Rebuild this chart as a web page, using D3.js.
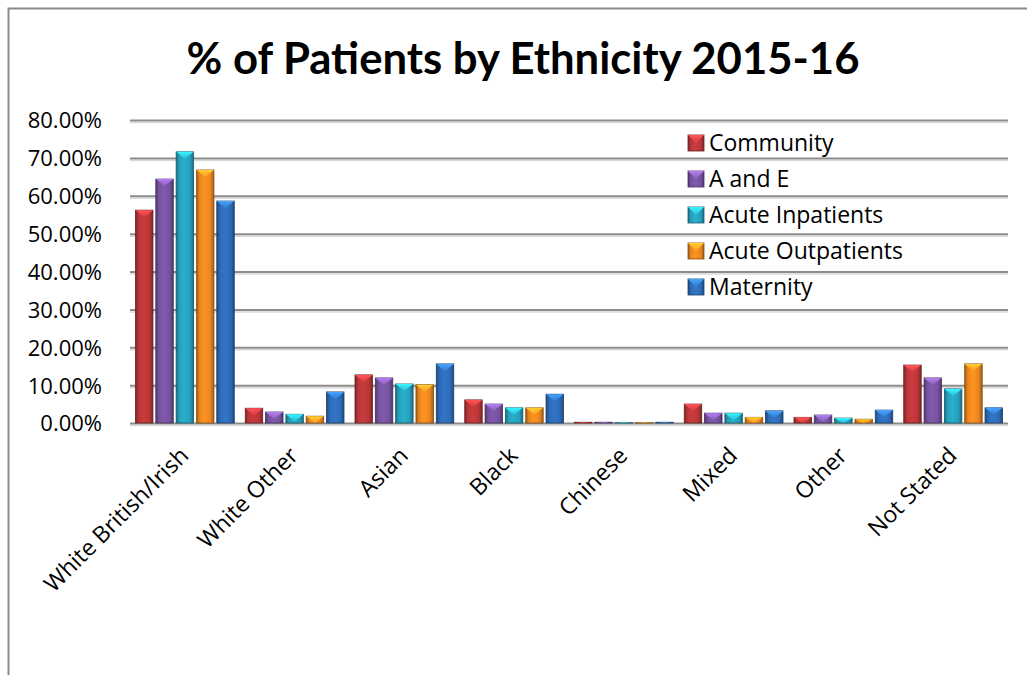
<!DOCTYPE html>
<html>
<head>
<meta charset="utf-8">
<script src="https://cdn.jsdelivr.net/npm/d3@7"></script>
<style>
  html, body { margin: 0; padding: 0; background: #fff; }
  svg { display: block; }
  text { font-family: "Open Sans", "Noto Sans", sans-serif; fill: #000; }
</style>
</head>
<body>
<svg id="chart" width="1027" height="675"></svg>
<script>
// Ethnicity categories along the x axis
const categories = ["White British/Irish", "White Other", "Asian", "Black", "Chinese", "Mixed", "Other", "Not Stated"];

// Service series names
const seriesNames = ["Community", "A and E", "Acute Inpatients", "Acute Outpatients", "Maternity"];

// Percentage of patients per category, one array per service
const community        = [56.2, 3.9, 12.7, 6.1, 0.2, 5.0, 1.5, 15.3];
const aAndE            = [64.4, 2.9, 11.9, 5.0, 0.2, 2.6, 2.1, 11.9];
const acuteInpatients  = [71.6, 2.3, 10.3, 4.0, 0.1, 2.6, 1.3, 9.0];
const acuteOutpatients = [66.8, 1.8, 10.1, 4.0, 0.1, 1.5, 1.0, 15.6];
const maternity        = [58.6, 8.2, 15.6, 7.6, 0.2, 3.2, 3.4, 4.0];

// Y-axis tick values (percent)
const yTicks = [0, 10, 20, 30, 40, 50, 60, 70, 80];

const seriesValues = [community, aAndE, acuteInpatients, acuteOutpatients, maternity];
const colors = ["#c0383a", "#7a55a4", "#27a6c1", "#f28b1f", "#2f6fbd"];

const svg = d3.select("#chart");
const W = 1027, H = 675;

// Outer frame: top and left edges
svg.append("path")
  .attr("d", `M8.5,${H} L8.5,8.5 L${W},8.5`)
  .attr("fill", "none").attr("stroke", "#8a8a8a").attr("stroke-width", 2);

// Title, sized to its intended width
const title = svg.append("text")
  .attr("x", 523).attr("y", 74)
  .attr("text-anchor", "middle")
  .attr("font-weight", "bold")
  .attr("font-size", 40)
  .style("font-family", "Lato, sans-serif")
  .text("% of Patients by Ethnicity 2015-16");
{
  const len = title.node().getComputedTextLength();
  title.attr("font-size", 40 * 673 / len);
}

const margin = { left: 130, right: 19, top: 120, bottom: 252 };
const plotW = W - margin.left - margin.right;
const plotH = H - margin.top - margin.bottom;

const x = d3.scaleBand().domain(categories).range([0, plotW]).paddingInner(0.1).paddingOuter(0.05);
const xs = d3.scaleBand().domain(d3.range(seriesNames.length)).range([0, x.bandwidth()]).paddingInner(0.14);
const y = d3.scaleLinear().domain([0, 80]).range([plotH, 0]);

const g = svg.append("g").attr("transform", `translate(${margin.left},${margin.top})`);
const defs = svg.append("defs");

// Gradients giving each bar a rounded, bevelled look
colors.forEach((c, i) => {
  const base = d3.color(c);
  const grad = defs.append("linearGradient").attr("id", "bar" + i)
    .attr("x1", "0%").attr("x2", "100%").attr("y1", "0%").attr("y2", "0%");
  grad.append("stop").attr("offset", "0%").attr("stop-color", base.darker(1.2));
  grad.append("stop").attr("offset", "18%").attr("stop-color", base.darker(0.1));
  grad.append("stop").attr("offset", "45%").attr("stop-color", base.brighter(0.15));
  grad.append("stop").attr("offset", "80%").attr("stop-color", base.darker(0.1));
  grad.append("stop").attr("offset", "100%").attr("stop-color", base.darker(1.2));
  const cap = defs.append("linearGradient").attr("id", "cap" + i)
    .attr("x1", "0%").attr("x2", "0%").attr("y1", "0%").attr("y2", "100%");
  cap.append("stop").attr("offset", "0%").attr("stop-color", base.brighter(1.1));
  cap.append("stop").attr("offset", "100%").attr("stop-color", base.brighter(0.3));
});

// Horizontal gridlines with tick stubs on the left
const yAxis = g.append("g").attr("class", "y-axis")
  .call(d3.axisLeft(y).tickValues(yTicks).tickSize(-plotW).tickFormat(d => d.toFixed(2) + "%"));
yAxis.select(".domain").remove();
yAxis.selectAll(".tick line")
  .attr("x1", 0)
  .attr("stroke", "#8c8c8c").attr("stroke-width", 2);
yAxis.selectAll(".tick").insert("line", ":first-child")
  .attr("x1", 0).attr("x2", plotW).attr("y1", 2).attr("y2", 2)
  .attr("stroke", "#d9d9d9").attr("stroke-width", 1.5);
yAxis.selectAll(".tick text")
  .attr("x", -28).attr("dy", "0.36em")
  .attr("font-size", 22).attr("fill", "#000")
  .style("font-family", "'Open Sans', sans-serif");

// Bars
const groups = g.selectAll(".cat").data(categories).enter().append("g")
  .attr("class", "cat")
  .attr("transform", d => `translate(${x(d)},0)`);

groups.each(function (cat, ci) {
  const grp = d3.select(this);
  seriesValues.forEach((vals, si) => {
    const v = vals[ci];
    const bx = xs(si), bw = xs.bandwidth();
    const by = y(v), bh = y(0) - y(v);
    const bar = grp.append("g");
    bar.append("rect")
      .attr("x", bx).attr("y", by).attr("width", bw).attr("height", bh)
      .attr("fill", `url(#bar${si})`)
      .attr("stroke", d3.color(colors[si]).darker(1.6)).attr("stroke-width", 0.8);
    const th = Math.min(7, bh);
    bar.append("path")
      .attr("d", `M${bx},${by} L${bx + bw},${by} L${bx + bw / 2},${by + th} Z`)
      .attr("fill", `url(#cap${si})`);
  });
});

// Category labels, rotated
const xAxis = g.append("g").attr("transform", `translate(0,${plotH})`)
  .call(d3.axisBottom(x).tickSize(0).tickPadding(0));
xAxis.select(".domain").remove();
xAxis.selectAll(".tick text")
  .attr("text-anchor", "end")
  .attr("font-size", 23).attr("fill", "#000")
  .style("font-family", "'Open Sans', sans-serif")
  .attr("dy", 0)
  .attr("transform", "translate(5,34) rotate(-45)");

// Legend
const legend = svg.append("g").attr("transform", "translate(688,143)");
seriesNames.forEach((name, i) => {
  const row = legend.append("g").attr("transform", `translate(0,${i * 36})`);
  row.append("rect").attr("x", 0).attr("y", -8).attr("width", 16).attr("height", 16)
    .attr("fill", `url(#bar${i})`)
    .attr("stroke", d3.color(colors[i]).darker(1.6)).attr("stroke-width", 0.8);
  row.append("path").attr("d", "M0,-8 L16,-8 L8,0 Z").attr("fill", `url(#cap${i})`);
  row.append("text").attr("x", 21).attr("y", 0).attr("dy", "0.36em")
    .attr("font-size", 23).text(name);
});
</script>
</body>
</html>
